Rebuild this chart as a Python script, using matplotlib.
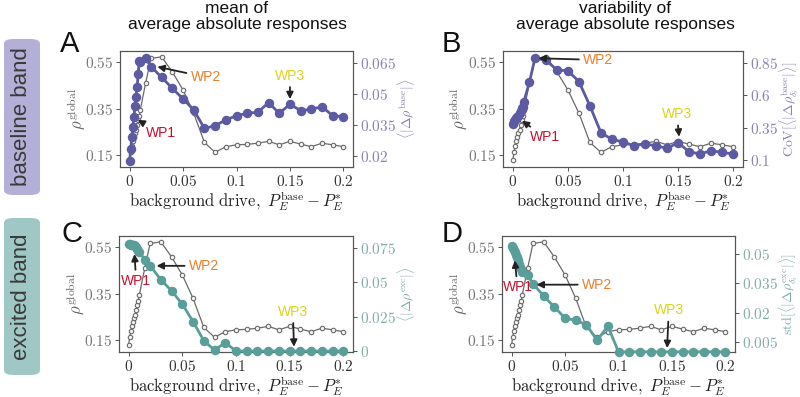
import matplotlib.pyplot as plt
from matplotlib.patches import FancyBboxPatch

plt.rcParams['mathtext.fontset'] = 'cm'
plt.rcParams['font.family'] = ['Liberation Sans', 'DejaVu Sans']

# background drive P_E^base - P_E^*
drive = [0, 0.001, 0.002, 0.003, 0.004, 0.005, 0.006, 0.007, 0.008, 0.009, 0.01,
         0.015, 0.02, 0.03, 0.04, 0.05, 0.06, 0.07, 0.08, 0.09, 0.1,
         0.11, 0.12, 0.13, 0.14, 0.15, 0.16, 0.17, 0.18, 0.19, 0.2]

rho_global = [0.13, 0.165, 0.19, 0.21, 0.23, 0.245, 0.26, 0.28, 0.30, 0.32, 0.345,
              0.46, 0.565, 0.572, 0.507, 0.43, 0.33, 0.205, 0.163, 0.187, 0.195,
              0.197, 0.202, 0.21, 0.195, 0.21, 0.198, 0.187, 0.202, 0.195, 0.187]

base_mean = [0.0176, 0.0234, 0.0293, 0.0341, 0.0386, 0.0441, 0.0486, 0.0531, 0.0595, 0.0658, 0.0655,
             0.0671, 0.0631, 0.0579, 0.0526, 0.0475, 0.0422, 0.0333, 0.0346, 0.0374, 0.0394,
             0.0406, 0.0411, 0.0457, 0.0406, 0.0449, 0.0419, 0.0425, 0.0438, 0.0394, 0.0390]

base_cov = [0.377, 0.40, 0.41, 0.42, 0.43, 0.44, 0.46, 0.48, 0.50, 0.51, 0.55,
            0.70, 0.883, 0.87, 0.793, 0.788, 0.704, 0.516, 0.31, 0.259, 0.239,
            0.21, 0.223, 0.21, 0.19, 0.233, 0.164, 0.146, 0.172, 0.159, 0.146]

exc_mean = [0.0779, 0.0779, 0.0774, 0.0774, 0.077, 0.0774, 0.0762, 0.0755, 0.0742, 0.073, 0.072,
            0.0665, 0.0621, 0.0519, 0.0438, 0.0341, 0.0214, 0.0075, 0.0007, 0.0061, 0,
            0, 0, 0, 0, 0, 0, 0, 0, 0, 0]

exc_std = [0.0539, 0.0531, 0.052, 0.0508, 0.0495, 0.0483, 0.0466, 0.0449, 0.0432, 0.042, 0.0407,
           0.039, 0.0347, 0.0284, 0.0228, 0.0172, 0.016, 0.0138, 0.0058, 0.0131, 0,
           0, 0, 0, 0, 0, 0, 0, 0, 0, 0]

x_ticks = [0, 0.05, 0.1, 0.15, 0.2]
x_ticklabels = ['0', '0.05', '0.1', '0.15', '0.2']
rho_ticks = [0.15, 0.35, 0.55]

PURPLE = '#5b5aa2'
PURPLE_TXT = '#8884b6'
TEAL = '#5a9e9a'
TEAL_TXT = '#84aeaa'
WP_COLORS = {'WP1': '#c8102e', 'WP2': '#ec7f2c', 'WP3': '#ddd21c'}

fig = plt.figure(figsize=(8, 3.97), dpi=100)


def panel(rect, values, color, txt_color, rticks, rlabels, rlim, rlabel, rlabel_x, notes):
    ax = fig.add_axes(rect)
    ax.plot(drive, rho_global, color='#6a6a6a', lw=0.9, marker='o', ms=3.2,
            mfc='#f4f4f4', mec='#6a6a6a', mew=0.8)
    ax.set_xlim(-0.009, 0.209)
    ax.set_ylim(0.1, 0.597)
    ax.set_xticks(x_ticks, ['$%s$' % t for t in x_ticklabels])
    ax.set_yticks(rho_ticks, ['$%s$' % t for t in rho_ticks])
    ax.tick_params(axis='x', labelsize=11, colors='#555555', labelcolor='#333333',
                   length=3, width=0.7, pad=2)
    ax.tick_params(axis='y', labelsize=11, colors='#555555', labelcolor='#777777',
                   length=3, width=0.7, pad=2)
    ax.set_xlabel(r'$\mathrm{background\ drive,}\ P_E^{\rm base} - P_E^{*}$', fontsize=12,
                  color='#222222', labelpad=0)
    ax.set_ylabel(r'$\rho^{\rm global}$', fontsize=12, color='#666666')
    ax.yaxis.set_label_coords(-0.14, 0.5)

    ax2 = ax.twinx()
    ax2.plot(drive, values, color=color, lw=2, marker='o', ms=5.8, clip_on=False, zorder=3)
    ax2.set_ylim(*rlim)
    ax2.set_yticks(rticks, ['$%s$' % t for t in rlabels])
    ax2.tick_params(axis='y', labelsize=11, colors='#555555', labelcolor=txt_color,
                    length=3, width=0.7, pad=2)
    ax2.set_ylabel(rlabel, fontsize=10, color=txt_color)
    ax2.yaxis.set_label_coords(rlabel_x, 0.5)
    for a in (ax, ax2):
        for s in a.spines.values():
            s.set_color('#555555')
            s.set_linewidth(0.8)

    for name, tip, pos, ha in notes:
        ax2.annotate(name, xy=tip, xytext=pos, ha=ha, va='center', fontsize=10,
                     color=WP_COLORS[name], zorder=5,
                     arrowprops=dict(arrowstyle='-|>', color='#222222', lw=1.3,
                                     mutation_scale=10, shrinkA=1, shrinkB=0))
    return ax


W, H = 800, 397


def rect(l, r, t, b):
    return [l / W, 1 - b / H, (r - l) / W, (b - t) / H]


panel(rect(120, 353, 51, 167), base_mean, PURPLE, PURPLE_TXT,
      [0.02, 0.035, 0.05, 0.065], ['0.02', '0.035', '0.05', '0.065'], (0.0147, 0.0706),
      r'$\langle|\Delta\rho^{\rm base}|\rangle$', 1.18,
      [('WP1', (0.0075, 0.0374), (0.029, 0.031), 'center'),
       ('WP2', (0.026, 0.063), (0.057, 0.058), 'left'),
       ('WP3', (0.15, 0.0474), (0.15, 0.0586), 'center')])

panel(rect(503, 743, 51, 167), base_cov, PURPLE, PURPLE_TXT,
      [0.1, 0.35, 0.6, 0.85], ['0.1', '0.35', '0.6', '0.85'], (0.046, 0.94),
      r'$\mathrm{CoV}[\langle|\Delta\rho^{\rm base}_{\delta_i}|\rangle]$', 1.143,
      [('WP1', (0.0082, 0.403), (0.029, 0.275), 'center'),
       ('WP2', (0.0232, 0.884), (0.0637, 0.871), 'left'),
       ('WP3', (0.151, 0.279), (0.149, 0.452), 'center')])

panel(rect(119, 353, 236, 352), exc_mean, TEAL, TEAL_TXT,
      [0, 0.025, 0.05, 0.075], ['0', '0.025', '0.05', '0.075'], (-0.0007, 0.0837),
      r'$\langle|\Delta\rho^{\rm exc}|\rangle$', 1.18,
      [('WP1', (0.0054, 0.0706), (0.007, 0.051), 'center'),
       ('WP2', (0.026, 0.062), (0.056, 0.062), 'left'),
       ('WP3', (0.154, 0.0031), (0.153, 0.0285), 'center')])

panel(rect(502, 735, 236, 352), exc_std, TEAL, TEAL_TXT,
      [0.005, 0.02, 0.035, 0.05], ['0.005', '0.02', '0.035', '0.05'], (-0.0001, 0.059),
      r'$\mathrm{std}[\langle|\Delta\rho^{\rm exc}_{\delta_i}|\rangle]$', 1.175,
      [('WP1', (0.003, 0.0466), (0.0055, 0.0328), 'center'),
       ('WP2', (0.0233, 0.0342), (0.0657, 0.0342), 'left'),
       ('WP3', (0.1455, 0.0019), (0.147, 0.0211), 'center')])

# column titles
fig.text(237 / W, 1 - 1 / H, 'mean of\naverage absolute responses', ha='center', va='top',
         fontsize=12.5, linespacing=1.05, color='#111111')
fig.text(625 / W, 1 - 1 / H, 'variability of\naverage absolute responses', ha='center', va='top',
         fontsize=12.5, linespacing=1.05, color='#111111')

# panel letters
for letter, x, y in [('A', 70, 44), ('B', 451, 44), ('C', 72, 234), ('D', 452, 234)]:
    fig.text(x / W, 1 - y / H, letter, ha='center', va='center', fontsize=21, color='#111111')

# row labels
for label, top, bottom, fc in [('baseline band', 39, 195, '#b3afd7'),
                               ('excited band', 218, 375, '#9fc8c4')]:
    box = FancyBboxPatch((4 / W, 1 - bottom / H), 36 / W, (bottom - top) / H,
                         boxstyle='round,pad=0,rounding_size=0.012', transform=fig.transFigure,
                         facecolor=fc, edgecolor='none')
    fig.patches.append(box)
    fig.text(22 / W, 1 - (top + bottom) / 2 / H, label, rotation=90, ha='center', va='center',
             fontsize=16, color='#3a3a3a')

fig.savefig('out.png', dpi=100)
